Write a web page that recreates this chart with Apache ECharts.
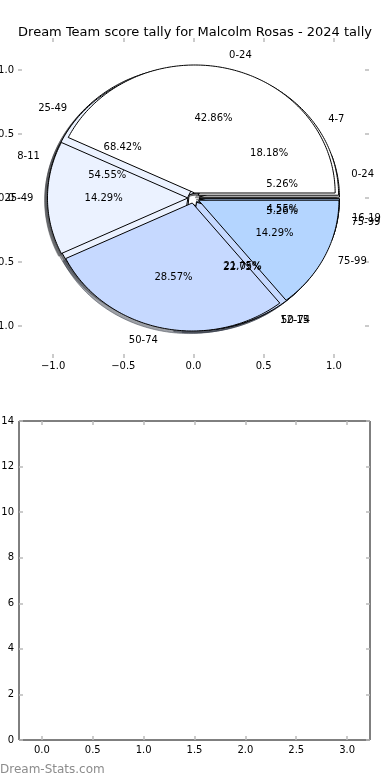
<!DOCTYPE html>
<html><head><meta charset="utf-8">
<script src="https://cdn.jsdelivr.net/npm/echarts@6/dist/echarts.min.js"></script>
<style>html,body{margin:0;padding:0;background:#fff}#c{width:390px;height:780px}</style>
</head><body><div id="c"></div>
<script>
const titleText = 'Dream Team score tally for Malcolm Rosas - 2024 tally';
const watermarkText = 'Dream-Stats.com';

// pies, drawn in this order (last one on top)
const pie1Labels = ['0-24', '25-49', '50-74', '75-99'];
const pie1Values = [1, 13, 4, 1];
const pie2Labels = ['4-7', '8-11', '12-15', '16-19'];
const pie2Values = [4, 12, 5, 1];
const pie3Labels = ['0-24', '25-49', '50-74', '75-99'];
const pie3Values = [3, 1, 2, 1];
const wedgeColors = ['#ffffff', '#ebf2ff', '#c6d9ff', '#b4d5ff'];
const pieTicks = [-1.0, -0.5, 0.0, 0.5, 1.0];

// empty bar panel
const barCategories = [0, 1, 2, 3];
const barValues = [0, 0, 0, 0];
const barXTicks = [0, 0.5, 1, 1.5, 2, 2.5, 3];

const EXPLODE = 0.04, LABEL_R = 1.1, PCT_R = 0.6, SHADOW = 0.02;
const FONT = '"DejaVu Sans", Verdana, sans-serif';

function geom(values, i) {
  const total = values.reduce((a, b) => a + b, 0);
  let s = 0;
  for (let k = 0; k < i; k++) s += values[k];
  const t1 = s / total * 2 * Math.PI, t2 = (s + values[i]) / total * 2 * Math.PI;
  const tm = (t1 + t2) / 2;
  return { t1, t2, tm, cx: EXPLODE * Math.cos(tm), cy: EXPLODE * Math.sin(tm), frac: values[i] / total };
}
function pts(api, g, dx, dy) {
  const out = [api.coord([g.cx + dx, g.cy + dy])];
  const n = Math.max(2, Math.ceil((g.t2 - g.t1) / (Math.PI / 180)));
  for (let j = 0; j <= n; j++) {
    const t = g.t1 + (g.t2 - g.t1) * j / n;
    out.push(api.coord([g.cx + dx + Math.cos(t), g.cy + dy + Math.sin(t)]));
  }
  return out;
}
function shadowColor(hex) {
  const r = parseInt(hex.substr(1, 2), 16), g = parseInt(hex.substr(3, 2), 16), b = parseInt(hex.substr(5, 2), 16);
  return 'rgba(' + Math.round(r * 0.3) + ',' + Math.round(g * 0.3) + ',' + Math.round(b * 0.3) + ',0.5)';
}
function fmt1(v) { return (v < 0 ? '\u2212' : '') + Math.abs(v).toFixed(1); }

function pieSeries(values, labels, layer, z) {
  return {
    type: 'custom', coordinateSystem: 'cartesian2d', xAxisIndex: 0, yAxisIndex: 0,
    z: z, silent: true, clip: false,
    data: values.map((v, i) => [i, v]),
    renderItem: function (params, api) {
      const i = params.dataIndex;
      const g = geom(values, i);
      const col = wedgeColors[i % wedgeColors.length];
      if (layer === 'shadow') {
        const sc = shadowColor(col);
        return { type: 'polygon', shape: { points: pts(api, g, -SHADOW, -SHADOW) },
          style: { fill: sc, stroke: sc, lineWidth: 1 } };
      }
      if (layer === 'wedge') {
        return { type: 'polygon', shape: { points: pts(api, g, 0, 0) },
          style: { fill: col, stroke: '#000', lineWidth: 1 } };
      }
      const lx = g.cx + LABEL_R * Math.cos(g.tm), ly = g.cy + LABEL_R * Math.sin(g.tm);
      const px = g.cx + PCT_R * Math.cos(g.tm), py = g.cy + PCT_R * Math.sin(g.tm);
      const lp = api.coord([lx, ly]), pp = api.coord([px, py]);
      return { type: 'group', children: [
        { type: 'text', x: lp[0], y: lp[1], style: { text: labels[i], fill: '#000', font: '10px ' + FONT,
          align: lx > 0 ? 'left' : 'right', verticalAlign: 'middle' } },
        { type: 'text', x: pp[0], y: pp[1], style: { text: (g.frac * 100).toFixed(2) + '%', fill: '#000', font: '10px ' + FONT,
          align: 'center', verticalAlign: 'middle' } }
      ] };
    }
  };
}

const tickStyle = { show: true, inside: true, length: 4, lineStyle: { color: '#bbbbbb', width: 1.5 } };
const labelStyle = { color: '#000', fontSize: 10, fontFamily: FONT };

const pies = [[pie1Values, pie1Labels], [pie2Values, pie2Labels], [pie3Values, pie3Labels]];
const series = [];
pies.forEach(p => series.push(pieSeries(p[0], p[1], 'shadow', 1)));
pies.forEach(p => series.push(pieSeries(p[0], p[1], 'wedge', 2)));
pies.forEach(p => series.push(pieSeries(p[0], p[1], 'text', 3)));
series.push({
  type: 'bar', xAxisIndex: 2, yAxisIndex: 2, barWidth: 46, silent: true,
  itemStyle: { color: '#b4d5ff' },
  data: barCategories.map((c, i) => [c, barValues[i]])
});

const chart = echarts.init(document.getElementById('c'), null, { renderer: 'canvas' });
chart.setOption({
  animation: false,
  backgroundColor: '#fff',
  title: { text: titleText, left: 'center', top: 21,
    textStyle: { fontSize: 13, fontWeight: 'normal', fontFamily: FONT, color: '#000' } },
  graphic: [{ type: 'text', left: 0, top: 764, style: { text: watermarkText, fill: '#8c8c8c', font: '12px ' + FONT } }],
  grid: [
    { left: 18, top: 38, width: 351, height: 320, show: false, containLabel: false, outerBoundsMode: 'none' },
    { left: 19, top: 421, width: 351, height: 319, show: true, borderColor: '#000', borderWidth: 1, backgroundColor: 'transparent', containLabel: false, outerBoundsMode: 'none' }
  ],
  xAxis: [
    { gridIndex: 0, type: 'value', min: -1.25, max: 1.25, position: 'bottom',
      axisLine: { show: false, onZero: false }, splitLine: { show: false },
      axisTick: Object.assign({ customValues: pieTicks }, tickStyle),
      axisLabel: Object.assign({ customValues: pieTicks, formatter: fmt1, margin: 3 }, labelStyle) },
    { gridIndex: 0, type: 'value', min: -1.25, max: 1.25, position: 'top',
      axisLine: { show: false, onZero: false }, splitLine: { show: false },
      axisTick: Object.assign({ customValues: pieTicks }, tickStyle), axisLabel: { show: false } },
    { gridIndex: 1, type: 'value', min: -0.225, max: 3.225, position: 'bottom',
      axisLine: { show: false, onZero: false }, splitLine: { show: false },
      axisTick: Object.assign({ customValues: barXTicks }, tickStyle),
      axisLabel: Object.assign({ customValues: barXTicks, formatter: v => v.toFixed(1), margin: 5 }, labelStyle) },
    { gridIndex: 1, type: 'value', min: -0.225, max: 3.225, position: 'top',
      axisLine: { show: false, onZero: false }, splitLine: { show: false },
      axisTick: Object.assign({ customValues: barXTicks }, tickStyle), axisLabel: { show: false } }
  ],
  yAxis: [
    { gridIndex: 0, type: 'value', min: -1.25, max: 1.25, position: 'left',
      axisLine: { show: false, onZero: false }, splitLine: { show: false },
      axisTick: Object.assign({ customValues: pieTicks }, tickStyle),
      axisLabel: Object.assign({ customValues: pieTicks, formatter: fmt1, margin: 4 }, labelStyle) },
    { gridIndex: 0, type: 'value', min: -1.25, max: 1.25, position: 'right',
      axisLine: { show: false, onZero: false }, splitLine: { show: false },
      axisTick: Object.assign({ customValues: pieTicks }, tickStyle), axisLabel: { show: false } },
    { gridIndex: 1, type: 'value', min: 0, max: 14, interval: 2, position: 'left',
      axisLine: { show: false, onZero: false }, splitLine: { show: false },
      axisTick: tickStyle, axisLabel: Object.assign({ margin: 5 }, labelStyle) },
    { gridIndex: 1, type: 'value', min: 0, max: 14, interval: 2, position: 'right',
      axisLine: { show: false, onZero: false }, splitLine: { show: false },
      axisTick: tickStyle, axisLabel: { show: false } }
  ],
  series: series
});
</script></body></html>
